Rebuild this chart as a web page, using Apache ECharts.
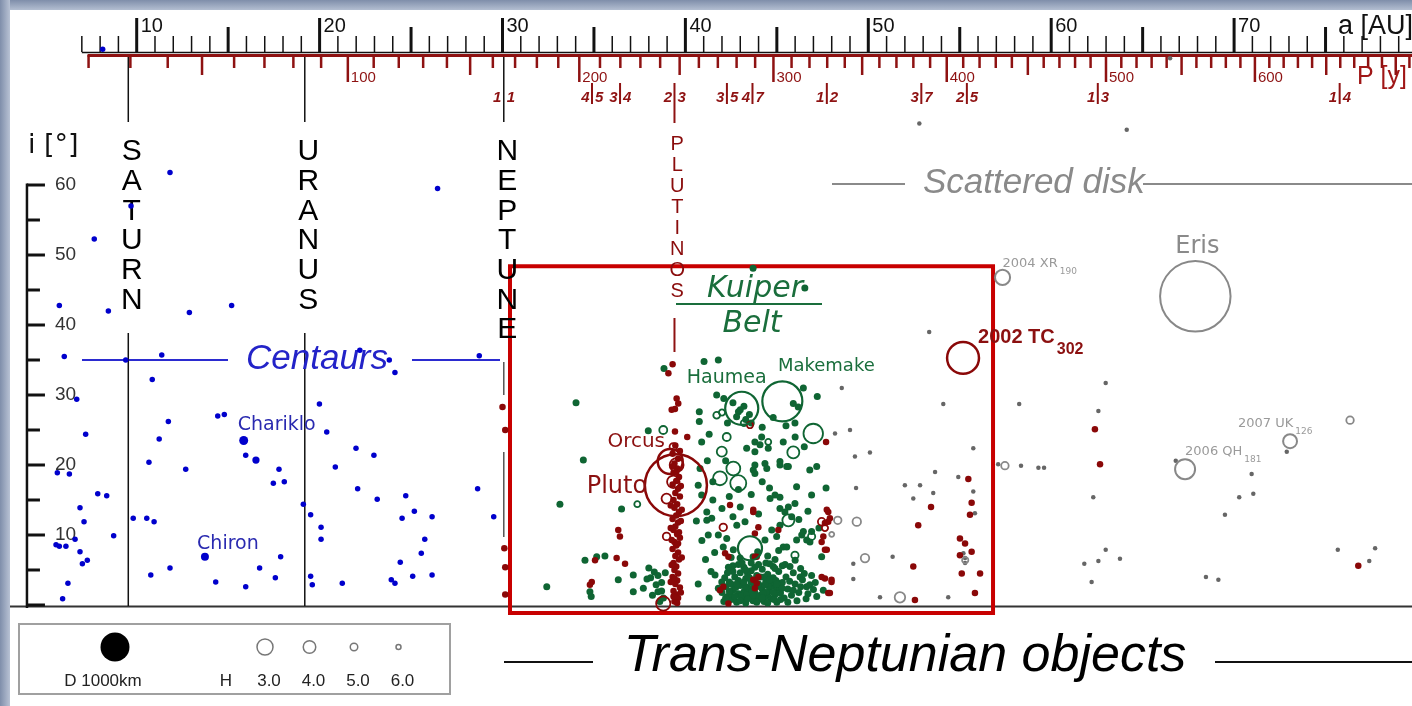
<!DOCTYPE html>
<html><head><meta charset="utf-8">
<script src="https://cdn.jsdelivr.net/npm/echarts@6/dist/echarts.min.js"></script>
<style>html,body{margin:0;padding:0;background:#fff}#c{width:1412px;height:706px}</style>
</head><body><div id="c"></div>
<script>
// ---------------- DATA ----------------
const aNeptune = 30.07;
const planetNames = ['SATURN', 'URANUS', 'NEPTUNE'];
const planetA = [9.54, 19.19, 30.07];
const aTickFirst = 7, aTickLast = 79;
const aTickLabels = [10, 20, 30, 40, 50, 60, 70];
const pTickFirst = 20, pTickLast = 710, pTickStep = 10;
const pTickLabels = [100, 200, 300, 400, 500, 600];
const iTickValues = [0, 5, 10, 15, 20, 25, 30, 35, 40, 45, 50, 55, 60];
const iTickLabels = [10, 20, 30, 40, 50, 60];
const resonances = [[1,1],[4,5],[3,4],[2,3],[3,5],[4,7],[1,2],[3,7],[2,5],[1,3],[1,4]];
const kuiperBox = [30.41, 48.4, 56.82, -1.14];

const centaurs = [[8.14,79.4],[11.82,61.8],[26.45,59.5],[9.69,57.0],[7.68,52.3],[5.77,42.8],[8.45,42.0],[12.88,41.8],[15.19,42.8],[6.04,35.5],[9.40,35.0],[11.37,35.7],[22.2,36.4],[23.81,35.0],[28.73,35.6],
[24.12,33.2],[10.85,32.2],[6.72,29.4],[19.99,28.7],[14.43,27.0],[14.79,27.2],[11.73,26.2],[7.21,24.4],[20.39,24.7],[11.23,23.7],[21.99,22.4],[22.97,21.4],[15.96,21.4],[10.67,20.4],[12.68,19.4],[17.78,19.4],[20.86,19.7],[5.66,18.9],[6.32,18.7],[17.47,17.4],[18.07,17.6],[22.08,16.6],[28.64,16.6],[7.87,15.9],[8.36,15.6],[23.15,15.1],[24.71,15.6],[6.90,13.9],[19.11,14.4],[25.18,13.4],[7.12,11.9],[9.81,12.4],[10.55,12.4],[10.95,11.9],[19.51,12.9],[24.51,12.4],[26.15,12.6],[29.52,12.6],[20.08,11.1],[8.74,9.9],[5.59,8.6],[5.77,8.4],[6.13,8.4],[6.63,9.4],[20.08,9.4],[25.75,9.4],[6.9,7.6],[17.87,6.9],[25.56,7.4],[7.30,6.4],[7.03,5.9],[24.41,6.1],[11.82,5.3],[16.72,5.3],[10.77,4.3],[17.58,3.9],[19.51,4.1],[25.09,4.1],[26.15,4.3],[23.92,3.6],[24.12,3.1],[14.32,3.3],[15.96,2.6],[19.60,2.9],[21.24,3.1],[6.24,3.1],[5.95,0.9]];
const namedCentaurs = [['Chariklo',15.85,23.5,310],['Chiron',13.73,6.9,275],['Bienor',16.52,20.7,250]];

const classical = [[34.02,28.9],[41.02,34.8],[41.80,35.0],[38.83,33.8],[34.42,20.7],[33.14,14.4],[36.51,13.7],[37.97,24.9],[40.76,27.6],[40.76,26.2],[41.71,30.0],[40.89,23.3],[40.7,17.1],[40.89,15.7],[34.51,6.4],[35.15,6.9],[35.60,7.0],[32.42,2.6],[36.33,3.6],[37.15,4.3],[37.15,1.9],[37.70,2.4],[34.78,1.9],[34.85,1.2],
[38.0,5.3],[38.3,4.7],[38.1,3.9],[38.5,4.2],[38.7,3.2],[38.7,2.0],[37.9,3.7],[38.5,1.9],[38.8,1.0],[38.6,0.5],[38.4,2.9],[38.9,4.6],[38.2,1.4],[41.62,4.3],[41.99,3.3],[41.8,2.4],[43.7,48.1],[46.53,45.3],
[42.6,28.9],[42.9,27.6],[43.2,28.4],[43.5,27.2],[42.8,26.9],[43.3,26.5],[43.6,26.0],[43.0,27.9],[42.1,29.5],[42.3,26.0],
[46.45,31.0],[47.21,29.8],[45.9,28.8],[46.17,28.3],[45.99,26.0],[45.35,23.3],[43.8,23.3],[44.17,24.0],[43.8,21.9],[45.17,20.5],[45.63,19.8],[44.35,20.2],[43.71,19.3],[46.8,19.3],[47.18,19.8],[46.08,16.9],[46.9,15.7],[47.69,16.7],[44.63,15.2],[45.17,15.4],[44.9,15.7],[45.17,13.8],[46.36,10.0],[46.9,10.5],[46.81,9.0],[47.45,6.9],[45.35,8.3],[44.8,5.5],[45.72,5.5],[46.27,4.0],[46.63,2.6],[47.18,1.2],[47.54,2.1],
[43.35,22.4],[44.08,22.9],[44.53,22.4],[43.8,20.0],[43.8,18.8],[44.45,19.5],[45.17,20.0],[45.54,19.8],[41.17,13.3],[41.44,12.4],[41.17,12.1],[41.8,10.0],[42.26,9.5],[42.81,11.4],[43.26,11.9],[41.25,10.0],[42.07,8.3],[42.62,7.9],[42.99,6.7],[44.35,9.3],[44.72,10.7],[44.99,9.8],[45.17,11.4],[45.54,8.3],[46.08,9.3],[46.45,10.5],[46.63,9.3],[45.44,13.3],[45.63,14.0],[45.99,14.5],[45.81,12.6],[44.6,16.7],[41.5,17.6],[41.2,20.6],[42.4,15.5],[43.0,14.0],[44.0,13.0],[42.9,16.5],
[40.6,12.0],[40.9,9.2],[41.1,6.5],[41.4,4.8],[40.7,3.0],[41.3,1.0],[41.6,7.5],[40.8,19.5],[41.5,15.0],[42.0,13.8],[42.6,12.6],[43.6,15.8],[44.2,17.6],[46.2,12.2],[46.7,13.4],[47.3,11.0],[42.2,20.6],[41.3,24.4],[44.8,26.8],[45.5,25.6],[44.2,25.4],[46.5,22.6],[46.0,24.0],
[42.1,0.5],[42.3,1.2],[42.5,0.8],[42.6,2.1],[42.8,0.4],[42.9,1.6],[43.0,2.8],[43.1,0.9],[43.2,1.9],[43.3,0.3],[43.4,2.5],[43.5,1.1],[43.6,3.2],[43.7,0.6],[43.8,1.8],[43.9,2.9],[44.0,0.8],[44.1,1.4],[44.2,2.3],[44.3,0.5],[44.4,3.4],[44.5,1.2],[44.6,2.0],[44.7,0.9],[44.8,2.7],[44.9,1.5],[45.0,0.4],[45.1,3.1],[45.2,1.7],[42.4,3.3],[42.7,4.0],[43.0,4.6],[43.3,3.8],[43.6,4.9],[43.9,4.2],[44.2,5.1],[44.5,4.4],[44.8,3.9],[45.1,4.8],[42.2,2.6],[42.5,3.0],[42.9,3.5],[43.2,5.4],[43.5,2.2],[43.8,3.6],[44.1,2.6],[44.4,1.8],[44.7,3.3],[45.0,2.2],[42.3,4.6],[42.6,5.6],[43.1,6.0],[43.4,4.5],[44.0,5.8],[44.6,5.9],[42.0,1.8],[42.15,3.9],[42.45,1.6],[42.75,2.5],[43.05,1.3],[43.35,1.5],[43.65,2.0],[43.95,1.1],[44.25,1.6],[44.55,2.7],[44.85,0.8],[45.15,2.5],[43.25,2.7],[43.75,2.6],[44.35,2.9],[44.95,3.5],[45.4,1.0],[45.6,2.3],[45.8,1.4],[46.0,3.0],[46.2,1.8],[46.4,3.6],[46.6,0.9],[46.8,2.9],[45.5,4.0],[45.9,4.6],[46.3,5.2],[46.1,0.6],[45.3,3.2],[45.7,3.4],[46.5,4.5],[46.9,4.2],[47.1,3.2],[45.45,5.8],[46.0,6.4],[44.9,6.5],[43.7,6.9],[42.5,6.8],[43.95,7.6],[44.5,7.0],[45.1,7.8],
[42.2,1.0],[42.4,2.0],[42.7,1.2],[42.8,3.0],[43.0,0.6],[43.2,3.3],[43.4,0.9],[43.5,3.9],[43.7,1.4],[43.9,0.4],[44.0,3.0],[44.2,1.0],[44.3,4.0],[44.5,0.3],[44.6,3.6],[44.8,1.8],[45.0,3.0],[45.2,0.8],[45.3,2.4],[42.6,4.8],[43.3,5.0],[43.8,5.4],[44.4,6.0],[44.9,5.2],[45.3,5.6],[42.9,5.8],[43.6,6.0],[44.1,4.0],[42.35,5.4],[45.6,0.4],[45.9,2.1],[46.3,2.6],[46.7,1.6],[47.0,2.2]];
const classicalOpen = [[38.79,25.0,4.9],[37.37,14.4,5.6],[41.71,27.1,5.3],[44.53,23.3,5.6],[45.9,21.8,4.1],[41.99,21.9,4.5],[42.62,19.5,3.6],[41.89,18.1,3.6],[42.89,17.4,3.0],[45.63,12.1,4.1],[45.99,7.1,5.1],[46.9,9.8,5.1],[46.99,24.5,2.0],[42.26,24.0,4.9],[43.2,26.0,5.5],[42.0,27.5,5.5]];
const namedClassical = [['Haumea',43.08,28.1,1140],['Makemake',45.3,29.1,1380],['Quaoar',43.53,8.1,830]];

const resonant = [[39.30,34.4],[39.07,33.1],[39.52,29.5],[39.43,28.0],[39.25,27.9],[39.61,28.8],[39.43,24.8],[40.1,24.0],[36.33,10.7],[36.42,9.8],[36.7,5.9],[36.24,6.7],[35.06,6.4],[34.88,3.3],[34.78,2.9],
[47.69,23.3],[47.81,13.3],[47.9,12.4],[47.63,11.7],[47.45,9.0],[47.73,7.9],[47.63,3.8],[47.99,3.3],[47.81,1.7],[43.71,13.3],[43.8,10.2],[43.9,6.9],[43.71,3.6],[52.73,11.4],[52.46,5.5],[53.43,14.0],[52.55,0.7],[55.47,18.0],[55.65,14.6],[55.56,12.9],[55.01,9.5],[55.29,8.8],[55.01,7.1],[55.65,7.6],[55.11,4.5],[56.11,4.5],[55.83,1.7],[62.39,25.1],[62.67,20.1],[76.79,5.6],
[42.44,14.3],[43.71,13.6],[43.99,11.1],[45.08,10.7],[47.73,13.6],[47.81,11.9],[47.54,9.8],[47.63,7.9],[42.17,7.4],[42.35,6.9],[43.8,6.9],[42.07,2.6],[41.89,2.1],[43.9,3.1],[43.8,2.4],[43.99,4.0],[42.35,0.2],[47.45,4.0],[47.99,3.6],[47.9,1.7],
[30.0,28.3],[30.15,25.0],[30.1,8.1],[30.15,5.4],[30.15,1.5],
[39.45,22.8],[39.3,21.6],[39.6,20.9],[39.4,20.2],[39.55,19.5],[39.35,18.9],[39.65,18.3],[39.5,17.7],[39.3,17.2],[39.6,16.6],[39.45,16.0],[39.7,15.5],[39.35,15.0],[39.55,14.4],[39.4,13.9],[39.65,13.3],[39.5,12.8],[39.3,12.3],[39.6,11.8],[39.45,11.2],[39.35,10.7],[39.55,10.1],[39.7,9.6],[39.4,9.0],[39.5,8.5],[39.3,8.0],[39.6,7.5],[39.45,7.0],[39.65,6.5],[39.35,6.0],[39.5,5.5],[39.4,5.0],[39.6,4.5],[39.3,4.0],[39.55,3.5],[39.45,3.0],[39.7,2.5],[39.35,2.0],[39.5,1.5],[39.6,1.0],[39.4,0.5],[39.2,14.2],[39.75,12.0],[39.25,9.3],[39.8,6.8],[39.2,3.3],[39.75,1.8],[39.55,0.3],[39.3,19.8],[39.7,22.0],[39.4,3.8],[39.6,8.8],[39.25,5.7],[39.75,17.0],[39.2,11.0],[39.8,13.6],[39.5,19.0],[39.35,1.2],[39.65,10.4]];
const resonantOpen = [[38.97,9.8,5.0],[38.97,15.2,4.5],[38.79,0.2,3.5],[39.34,22.6,5.0],[39.34,17.6,4.0],[39.52,20.0,3.6],[47.45,11.9,5.0],[42.07,11.1,5.0],[43.53,25.7,5.5],[47.63,11.0,5.5]];
const namedResonant = [['Pluto',39.48,17.1,2140],['Orcus',39.17,20.5,860],['2002 TC302',55.18,35.3,1100]];

const scattered = [[52.79,68.8],[64.13,67.9],[66.5,78.1],[53.33,39.0],[54.10,28.7],[48.55,31.0],[48.18,24.5],[49.0,25.0],[49.27,21.2],[50.09,21.8],[55.74,22.4],[53.65,19.0],[54.92,18.3],[49.33,16.7],[52.0,17.1],[52.83,17.1],[52.46,15.2],[53.55,16.0],[55.74,16.2],[55.83,13.1],[49.18,5.9],[51.33,6.9],[49.18,3.7],[50.64,1.1],[54.37,1.1],[55.2,7.4],[55.29,6.7],[55.29,6.0],
[62.98,31.7],[58.25,28.7],[62.58,27.7],[57.1,20.1],[58.35,19.9],[59.3,19.6],[59.61,19.6],[62.3,15.4],[62.98,7.9],[62.58,6.3],[61.81,5.9],[63.76,6.6],[62.21,3.3],[66.81,20.6],[70.96,18.7],[70.28,15.4],[71.05,15.9],[69.5,12.9],[72.88,21.9],[68.46,4.0],[69.14,3.6],[75.67,7.9],[77.71,8.1],[77.39,6.3]];
const scatteredOpen = [[48.33,12.1,5.0],[49.37,11.9,4.8],[48.0,10.1,6.0],[49.82,6.7,4.8],[51.73,1.1,4.4],[57.47,19.9,5.0],[76.34,26.4,5.0],[55.3,6.4,5.5]];
const namedScattered = [['Eris',67.88,44.1,2430],['2004 XR190',57.34,46.8,520],['2007 UK126',73.06,23.4,480],['2006 QH181',67.32,19.4,690]];

const legendH = ['3.0', '4.0', '5.0', '6.0'];

// ---------------- STYLE ----------------
const X_MIN = 2.526, X_MAX = 79.727, Y_MIN = -14.43, Y_MAX = 86.43;
const C_BLUE = '#0000cc', C_GREEN = '#0f6533', C_RED = '#8a0808', C_GRAY = '#666666', C_AXRED = '#8e1212';
const PX_PER_KM = 0.029;
const LIB = '"Liberation Sans", Arial, sans-serif';
const DJV = '"DejaVu Sans", sans-serif';
function hSize(H){
  const hs=[3,4,5,6], ss=[16,12.5,7.5,5];
  if (H<=3) return 16+(3-H)*3.5;
  if (H>=6) return 5;
  for (let k=0;k<3;k++) if (H<=hs[k+1]) return ss[k]+(ss[k+1]-ss[k])*(H-hs[k]);
}
const planetLower = [[[333,606]],[[333,606]],[[362,395],[452,537]]];
const labelLayout = {
  'Pluto':    {dx:-59, dy:1, font:'24px '+DJV, color:'#8b1010', align:'center'},
  'Orcus':    {dx:-34, dy:-20, font:'20px '+DJV, color:'#8b1010', align:'center'},
  'Haumea':   {dx:-15, dy:-30, font:'19px '+DJV, color:'#1a6e3c', align:'center'},
  'Makemake': {dx:44, dy:-35, font:'18px '+DJV, color:'#1a6e3c', align:'center'},
  'Eris':     {dx:2, dy:-50, font:'24px '+DJV, color:'#8a8a8a', align:'center'},
  '2002 TC302': {dx:15, dy:-20, font:'bold 20px '+LIB, main:'2002 TC', sub:'302', subFont:'bold 16px '+LIB, subDy:-8, color:'#8b1010', align:'left'},
  '2004 XR190': {dx:0, dy:-13.4, font:'13px '+DJV, main:'2004 XR', sub:'190', subFont:'9px '+DJV, subDy:-5.4, color:'#9a9a9a', align:'left'},
  '2007 UK126': {dx:-52, dy:-18, font:'13px '+DJV, main:'2007 UK', sub:'126', subFont:'9px '+DJV, subDy:-9.7, color:'#9a9a9a', align:'left'},
  '2006 QH181': {dx:0, dy:-17.6, font:'13px '+DJV, main:'2006 QH', sub:'181', subFont:'9px '+DJV, subDy:-9.6, color:'#9a9a9a', align:'left'},
  'Chariklo': {dx:33, dy:-15, font:'19px '+DJV, color:'#2a2ab0', align:'center'},
  'Chiron':   {dx:23, dy:-13, font:'19px '+DJV, color:'#2a2ab0', align:'center'}
};
const measureCtx = document.createElement('canvas').getContext('2d');
function textWidth(t, font){ measureCtx.font = font; return measureCtx.measureText(t).width; }

// ---------------- BUILD ----------------
const aTickData = []; for (let a=aTickFirst; a<=aTickLast; a++) aTickData.push([a, 0]);
const pTickData = []; for (let P=pTickFirst; P<=pTickLast; P+=pTickStep) pTickData.push([Math.pow(P, 2/3), 0, P]);
const resData = resonances.map(r => [aNeptune*Math.pow(r[1]/r[0], 2/3), 0, r[0], r[1]]);
const allNamed = [].concat(namedCentaurs, namedClassical, namedResonant, namedScattered).filter(n => labelLayout[n[0]]);

function line(x1,y1,x2,y2,stroke,w){ return {type:'line', shape:{x1,y1,x2,y2}, style:{stroke, lineWidth:w}}; }
function txt(text,x,y,font,fill,align,va){ return {type:'text', style:{text, x, y, font, fill, align:align||'left', verticalAlign:va||'middle'}}; }

function renderA(params, api){
  const a = api.value(0), x = api.coord([a, 0])[0];
  const dec = aTickLabels.indexOf(a) >= 0;
  const len = dec ? 34 : (a % 5 === 0 ? 25 : 16);
  const ch = [line(x, 52, x, 52-len, '#111', (a%5===0)?3:1.5)];
  if (dec) ch.push(txt(String(a), x+4, 26, '20px '+LIB, '#111'));
  if (params.dataIndex === 0) ch.push(line(x, 52.5, 1412, 52.5, '#111', 1.5));
  return {type:'group', children:ch};
}
function renderP(params, api){
  const P = api.value(2), x = api.coord([api.value(0), 0])[0];
  const lab = pTickLabels.indexOf(P) >= 0;
  const len = lab ? 27 : (P % 50 === 0 ? 20 : 13);
  const ch = [line(x, 55, x, 55+len, C_AXRED, 2.5)];
  if (lab) ch.push(txt(String(P), x+3, 77.5, '15px '+LIB, C_AXRED));
  if (params.dataIndex === 0) ch.push(line(x-1, 55.5, 1412, 55.5, C_AXRED, 3));
  return {type:'group', children:ch};
}
function renderI(params, api){
  const i = api.value(1), pt = api.coord([api.value(0), i]);
  const x = pt[0], y = pt[1];
  const ch = [line(x, y, x + (i%10===0 ? 18 : 13), y, '#111', 3)];
  if (iTickLabels.indexOf(i) >= 0) ch.push(txt(String(i), x+28, y, '19px '+LIB, '#333'));
  if (params.dataIndex === 0) {
    const top = api.coord([api.value(0), iTickValues[iTickValues.length-1]])[1];
    ch.push(line(x, top-1.5, x, y+3, '#111', 2.5));
  }
  return {type:'group', children:ch};
}
function renderRes(params, api){
  const x = api.coord([api.value(0), 0])[0], p = api.value(2), q = api.value(3);
  const ch = [];
  if (!(p===1 && q===1)) ch.push(line(x, 83, x, (p===2&&q===3)?123:104, C_AXRED, 2));
  const f = 'italic bold 15px '+LIB;
  ch.push(txt(String(p), x-2.5, 98, f, C_AXRED, 'right'));
  ch.push(txt(String(q), x+3, 98, f, C_AXRED, 'left'));
  if (p===2 && q===3) {
    const word = 'PLUTINOS';
    for (let k=0;k<word.length;k++) ch.push(txt(word[k], x+2.8, 144+k*21, '20px '+LIB, '#8a0c0c', 'center'));
    ch.push(line(x, 318, x, 352, C_AXRED, 2));
  }
  return {type:'group', children:ch};
}
function renderPlanet(params, api){
  const idx = params.dataIndex, x = api.coord([api.value(0), 0])[0];
  const name = planetNames[idx];
  const ch = [line(x, 57, x, 122, '#111', 1.5)];
  for (let k=0;k<name.length;k++) ch.push(txt(name[k], x+3.5, 152+k*29.66, '30px '+LIB, '#000', 'center'));
  planetLower[idx].forEach(s => ch.push(line(x, s[0], x, s[1], idx===2?'#555':'#111', 1.5)));
  return {type:'group', children:ch};
}
function renderLabel(params, api){
  const n = allNamed[params.dataIndex];
  const L = labelLayout[n[0]];
  const pt = api.coord([n[1], n[2]]);
  const x = pt[0]+L.dx, y = pt[1]+L.dy;
  const ch = [txt(L.main || n[0], x, y, L.font, L.color, L.align)];
  if (L.sub) {
    const w = textWidth(L.main, L.font);
    ch.push(txt(L.sub, x+w+2, pt[1]+L.subDy, L.subFont, L.color, 'left'));
  }
  return {type:'group', children:ch};
}

function dots(data, color, size, z){ return {type:'scatter', data, symbolSize:size, itemStyle:{color, opacity:1}, z, silent:true}; }
function opens(data, color, z){ return {type:'scatter', data, symbolSize: v => hSize(v[2]), itemStyle:{color:'rgba(255,255,255,0)', borderColor:color, borderWidth:1.8, opacity:1}, z, silent:true}; }
function named(list, color, z, bw){ return {type:'scatter', data:list.map(n => [n[1], n[2], n[3]]), symbolSize: v => v[2]*PX_PER_KM, itemStyle:{color:'rgba(255,255,255,0)', borderColor:color, borderWidth:bw, opacity:1}, z, silent:true}; }

const series = [
  {type:'custom', renderItem:renderA, data:aTickData, z:1, silent:true},
  {type:'custom', renderItem:renderP, data:pTickData, z:1, silent:true},
  {type:'custom', renderItem:renderI, data:iTickValues.map(i => [4, i]), z:1, silent:true},
  {type:'custom', renderItem:renderRes, data:resData, z:1, silent:true},
  {type:'custom', renderItem:renderPlanet, data:planetA.map(a => [a, 0]), z:1, silent:true},
  dots(centaurs, C_BLUE, 5.5, 2),
  {type:'scatter', data:namedCentaurs.map(n => [n[1], n[2], n[3]]), symbolSize: v => v[2]*PX_PER_KM, itemStyle:{color:C_BLUE, opacity:1}, z:3, silent:true},
  dots(scattered, C_GRAY, 4.5, 2),
  Object.assign(dots(classical, C_GREEN, 7, 3), {markArea:{silent:true, itemStyle:{color:'rgba(255,255,255,0)', borderColor:'#c80000', borderWidth:4}, data:[[{coord:[kuiperBox[0], kuiperBox[1]]},{coord:[kuiperBox[2], kuiperBox[3]]}]]}}),
  dots(resonant, C_RED, 6.5, 4),
  opens(scatteredOpen, '#888', 5),
  opens(classicalOpen, C_GREEN, 5),
  opens(resonantOpen, C_RED, 5),
  named(namedScattered, '#888', 6, 2),
  named(namedClassical, C_GREEN, 6, 2.2),
  named(namedResonant, C_RED, 6, 2.5),
  {type:'custom', renderItem:renderLabel, data:allNamed.map(n => [n[1], n[2]]), z:7, silent:true}
];

const graphic = [
  // frame
  {type:'rect', shape:{x:0,y:0,width:1412,height:10}, style:{fill:new echarts.graphic.LinearGradient(0,0,0,1,[{offset:0,color:'#7f8eaa'},{offset:1,color:'#b3bed1'}])}, z:100},
  {type:'rect', shape:{x:0,y:0,width:10,height:706}, style:{fill:new echarts.graphic.LinearGradient(0,0,1,0,[{offset:0,color:'#7f8eaa'},{offset:1,color:'#b8c2d4'}])}, z:100},
  // axis titles
  {type:'text', style:{text:'a [AU]', x:1338, y:27, font:'27px '+LIB, fill:'#111', verticalAlign:'middle'}, z:50},
  {type:'text', style:{text:'P [y]', x:1357, y:77, font:'25px '+LIB, fill:'#a01616', verticalAlign:'middle'}, z:50},
  {type:'text', style:{text:'i [°]', x:28, y:146, font:'27px '+DJV, fill:'#111', verticalAlign:'middle'}, z:50},
  // baseline
  {type:'line', shape:{x1:10,y1:606.5,x2:1412,y2:606.5}, style:{stroke:'#333', lineWidth:1.8}, z:1},
  // Centaurs
  {type:'line', shape:{x1:82,y1:360,x2:228,y2:360}, style:{stroke:'#2b2bd0', lineWidth:2}, z:1},
  {type:'line', shape:{x1:412,y1:360,x2:500,y2:360}, style:{stroke:'#2b2bd0', lineWidth:2}, z:1},
  {type:'text', style:{text:'Centaurs', x:317, y:359, font:'italic 35px '+LIB, fill:'#2323c8', align:'center', verticalAlign:'middle'}, z:2},
  // Scattered disk
  {type:'line', shape:{x1:832,y1:184,x2:905,y2:184}, style:{stroke:'#8a8a8a', lineWidth:2}, z:1},
  {type:'line', shape:{x1:1143,y1:184,x2:1412,y2:184}, style:{stroke:'#8a8a8a', lineWidth:2}, z:1},
  {type:'text', style:{text:'Scattered disk', x:923, y:183, font:'italic 35px '+LIB, fill:'#8a8a8a', align:'left', verticalAlign:'middle'}, z:2},
  // Kuiper Belt
  {type:'text', style:{text:'Kuiper', x:755, y:289, font:'italic 30px '+DJV, fill:'#1a6e3c', align:'center', verticalAlign:'middle'}, z:6},
  {type:'line', shape:{x1:676,y1:304,x2:822,y2:304}, style:{stroke:'#1a6e3c', lineWidth:2}, z:6},
  {type:'text', style:{text:'Belt', x:752, y:324, font:'italic 30px '+DJV, fill:'#1a6e3c', align:'center', verticalAlign:'middle'}, z:6},
  // TNO title
  {type:'line', shape:{x1:504,y1:662,x2:593,y2:662}, style:{stroke:'#111', lineWidth:2}, z:1},
  {type:'line', shape:{x1:1215,y1:662,x2:1412,y2:662}, style:{stroke:'#111', lineWidth:2}, z:1},
  {type:'text', style:{text:'Trans-Neptunian objects', x:905, y:657, font:'italic 52px '+LIB, fill:'#000', align:'center', verticalAlign:'middle'}, z:2},
  // legend
  {type:'rect', shape:{x:19,y:624,width:431,height:70}, style:{fill:'#fff', stroke:'#a0a0a0', lineWidth:2}, z:2},
  {type:'circle', shape:{cx:115,cy:647,r:1000*PX_PER_KM/2}, style:{fill:'#000'}, z:3},
  {type:'text', style:{text:'D 1000km', x:103, y:681, font:'17px '+LIB, fill:'#222', align:'center', verticalAlign:'middle'}, z:3},
  {type:'text', style:{text:'H', x:226, y:681, font:'17px '+LIB, fill:'#222', align:'center', verticalAlign:'middle'}, z:3}
];
legendH.forEach((h, k) => {
  const cx = 265 + k*44.5;
  graphic.push({type:'circle', shape:{cx, cy:647, r:hSize(parseFloat(h))/2}, style:{fill:'#fff', stroke:'#777', lineWidth:1.5}, z:3});
  graphic.push({type:'text', style:{text:h, x:cx+4, y:681, font:'17px '+LIB, fill:'#222', align:'center', verticalAlign:'middle'}, z:3});
});

const chart = echarts.init(document.getElementById('c'), null, {renderer:'canvas', width:1412, height:706});
chart.setOption({
  animation:false,
  backgroundColor:'#fff',
  textStyle:{fontFamily:LIB},
  grid:{left:0, right:0, top:0, bottom:0},
  xAxis:{type:'value', min:X_MIN, max:X_MAX, show:false},
  yAxis:{type:'value', min:Y_MIN, max:Y_MAX, show:false},
  tooltip:{show:false},
  graphic,
  series
});
</script></body></html>
